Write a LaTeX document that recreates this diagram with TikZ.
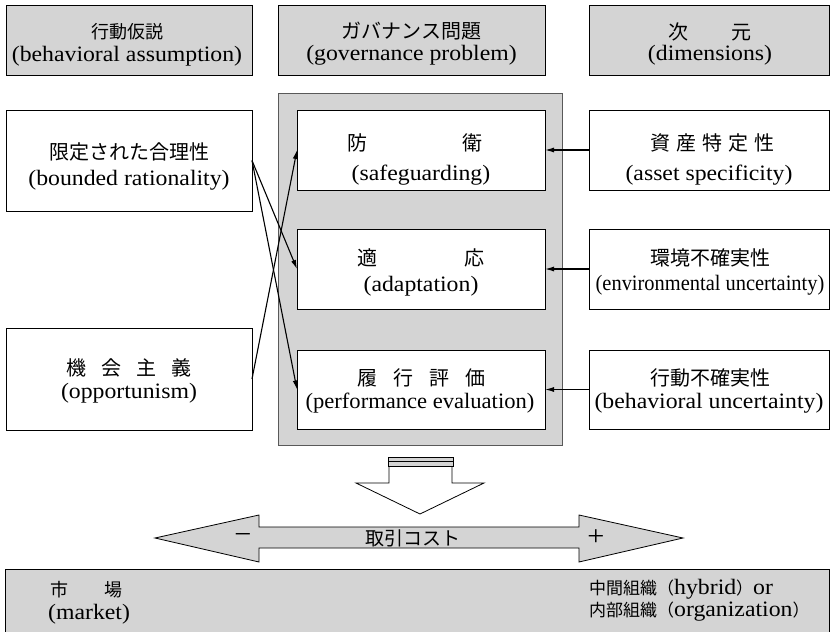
\documentclass[tikz,border=0pt]{standalone}
\usepackage{graphicx}
\usepackage{fontspec}
\setmainfont{Liberation Serif}[FakeStretch=1.08]
\newfontfamily\cjk{Noto Sans CJK JP}
\usetikzlibrary{arrows.meta}
\definecolor{hatch}{RGB}{212,212,212}
\begin{document}
\begin{tikzpicture}[x=1pt,y=-1pt,
  box/.style={draw=black, line width=1pt, inner sep=0pt, outer sep=0pt, rectangle},
  gbox/.style={box, fill=hatch},
  en/.style={font=\fontsize{22}{26}\selectfont, inner sep=0pt},
  jp/.style={font=\fontsize{20}{24}\selectfont\cjk, inner sep=0pt},
  jps/.style={font=\fontsize{18}{22}\selectfont\cjk, inner sep=0pt},
  arr/.style={line width=1.1pt, -{Latex[length=9pt,width=5pt]}},
  bigarrow/.style={draw=black, line width=0.8pt, line join=miter},
]
\clip (0,0) rectangle (831,632);
% header boxes
\node[gbox, minimum width=246pt, minimum height=70pt] (h1) at (129,40) {};
\node[gbox, minimum width=267pt, minimum height=70pt] (h2) at (411.5,40) {};
\node[gbox, minimum width=240pt, minimum height=70pt] (h3) at (709,40) {};
\node[jps] (h1j) at (127,32) {行動仮説};
\node[en]  (h1e) at (127,56) {(behavioral assumption)};
\node[jp]  (h2j) at (411.5,31) {ガバナンス問題};
\node[en]  (h2e) at (411.5,55) {(governance problem)};
\node[jp]  (h3j) at (710,32) {次\hspace{2.2em}元};
\node[en]  (h3e) at (710,55) {(dimensions)};
% central gray panel
\node[box, draw=black!65, fill=hatch, minimum width=284pt, minimum height=352pt] (gb) at (420,269) {};
% inner boxes
\node[box, fill=white, minimum width=248pt, minimum height=80pt] (sg) at (421,150) {};
\node[box, fill=white, minimum width=248pt, minimum height=80pt] (ad) at (421,269) {};
\node[box, fill=white, minimum width=248pt, minimum height=79pt] (pe) at (421,389.5) {};
\node[jp] (sgj) at (414.5,143) {防\hspace{4.75em}衛};
\node[en] (sge) at (421,175) {(safeguarding)};
\node[jp] (adj) at (420.5,258) {適\hspace{4.35em}応};
\node[en] (ade) at (421,286) {(adaptation)};
\node[jp] (pej) at (421,378) {履\hspace{0.8em}行\hspace{0.8em}評\hspace{0.8em}価};
\node[en] (pee) at (420,403) {\scalebox{0.95}[1]{(performance evaluation)}};
% left boxes
\node[box, minimum width=246pt, minimum height=101pt] (br) at (129,160.5) {};
\node[box, minimum width=246pt, minimum height=102pt] (op) at (129,379) {};
\node[jp] (brj) at (129,152) {限定された合理性};
\node[en] (bre) at (129,180) {(bounded rationality)};
\node[jp] (opj) at (129,368) {機\hspace{0.75em}会\hspace{0.75em}主\hspace{0.75em}義};
\node[en] (ope) at (129,393) {(opportunism)};
% right boxes
\node[box, minimum width=240pt, minimum height=80pt] (as) at (709,150) {};
\node[box, minimum width=240pt, minimum height=80pt] (eu) at (709,269) {};
\node[box, minimum width=240pt, minimum height=79pt] (bu) at (709,389.5) {};
\node[jp] (asj) at (712,143) {資\hspace{0.3em}産\hspace{0.3em}特\hspace{0.3em}定\hspace{0.3em}性};
\node[en] (ase) at (709,175) {(asset specificity)};
\node[jp] (euj) at (710,258) {環境不確実性};
\node[en] (eue) at (710,285) {\scalebox{0.86}[1]{(environmental uncertainty)}};
\node[jp] (buj) at (710,378) {行動不確実性};
\node[en] (bue) at (709,403) {(behavioral uncertainty)};
% connectors
\draw[arr] (br.east) -- (ad.west);
\draw[arr] (br.east) -- (pe.west);
\draw[arr] (op.east) -- (sg.west);
\draw[arr] (as.west) -- (sg.east);
\draw[arr] (eu.west) -- (ad.east);
\draw[arr] (bu.west) -- (pe.east);
% down arrow
\draw[bigarrow, fill=white] (389,466) -- (389,483) -- (356,483) -- (420,514) -- (484,483) -- (452,483) -- (452,466);
\draw[line width=0.8pt, fill=hatch] (388,457) rectangle (453,466);
\draw[line width=0.6pt] (388,461.5) -- (453,461.5);
% double arrow
\draw[bigarrow, fill=hatch] (155,538) -- (259,515) -- (259,527) -- (579,527) -- (579,515) -- (683,538)
  -- (579,562) -- (579,548) -- (259,548) -- (259,562) -- cycle;
\node[font=\fontsize{19}{23}\selectfont\cjk, inner sep=0pt] (tc) at (413,538) {取引コスト};
\node[font=\fontsize{28}{30}\selectfont, inner sep=0pt] (mn) at (243,538) {−};
\node[font=\fontsize{28}{30}\selectfont, inner sep=0pt] (pl) at (596,538) {+};
% bottom box
\node[gbox, minimum width=824pt, minimum height=90pt] (bot) at (417,614) {};
\node[jps, anchor=west] (mk1) at (50,590) {市\hspace{2em}場};
\node[en, anchor=west] (mk2) at (48,614) {(market)};
\node[en, anchor=west] (hy1) at (589,589) {{\cjk\fontsize{17}{20}\selectfont 中間組織（}hybrid{\cjk\fontsize{17}{20}\selectfont ）}or};
\node[en, anchor=west] (hy2) at (589,612) {{\cjk\fontsize{17}{20}\selectfont 内部組織（}organization{\cjk\fontsize{17}{20}\selectfont ）}};
\end{tikzpicture}
\end{document}
